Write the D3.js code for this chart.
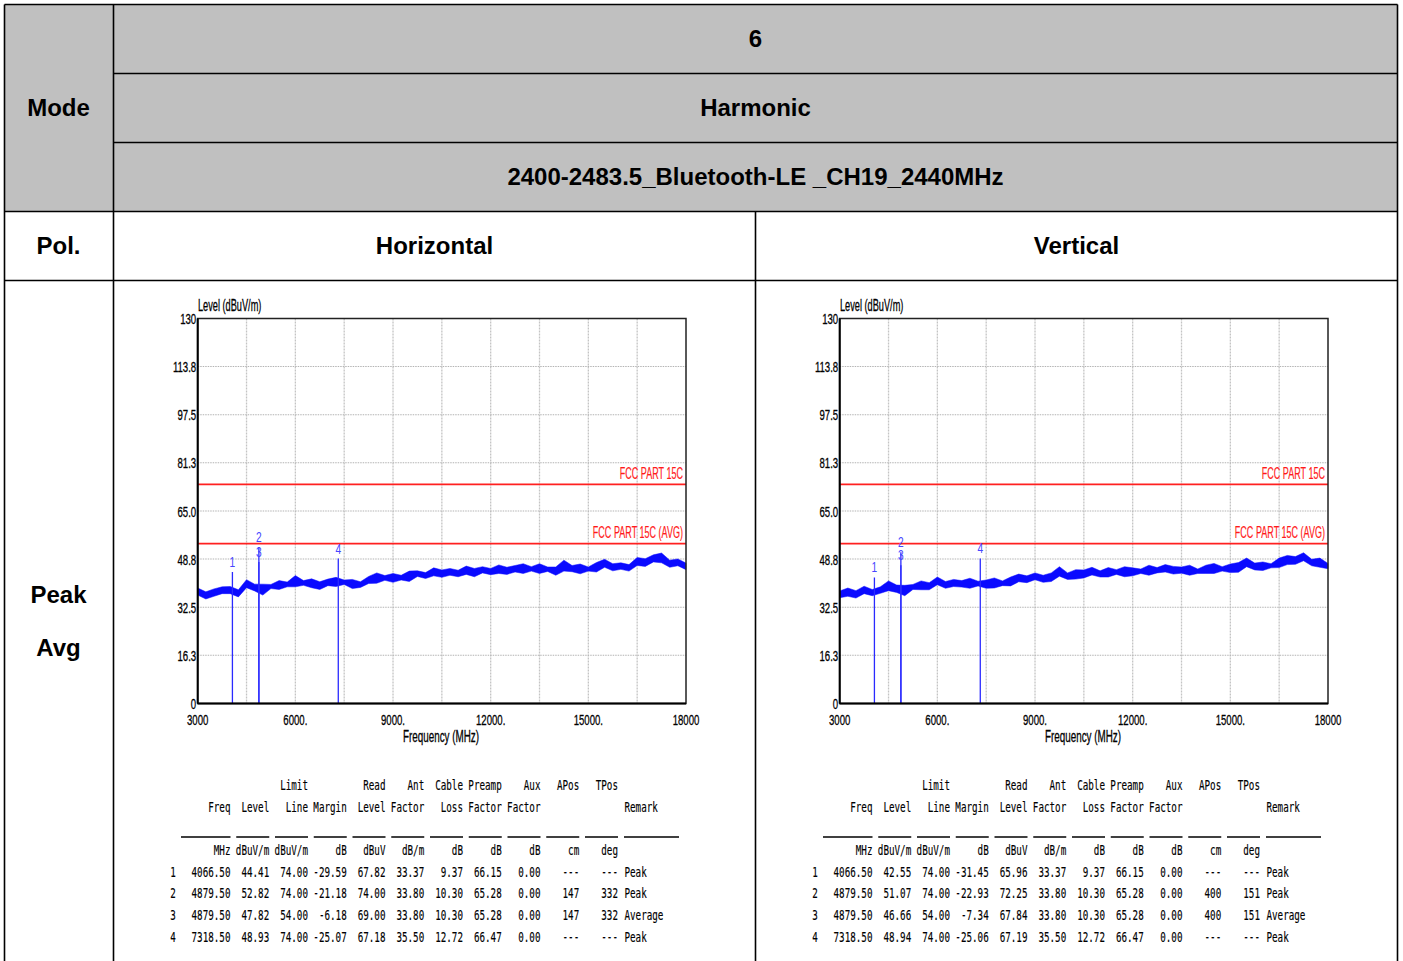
<!DOCTYPE html>
<html><head><meta charset="utf-8">
<script src="https://cdn.jsdelivr.net/npm/d3@7/dist/d3.min.js"></script>
<style>body{margin:0;background:#fff;} svg{display:block}</style>
</head><body><svg id="c" width="1403" height="961"></svg>
<script>
// ---------------- data ----------------
const headerTexts = ["6", "Harmonic", "2400-2483.5_Bluetooth-LE _CH19_2440MHz"];
const polNames = ["Horizontal", "Vertical"];
const yTicks = [0, 16.3, 32.5, 48.8, 65.0, 81.3, 97.5, 113.8, 130];
const yTickLabels = ["0", "16.3", "32.5", "48.8", "65.0", "81.3", "97.5", "113.8", "130"];
const xGrid = [3000, 4500, 6000, 7500, 9000, 10500, 12000, 13500, 15000, 16500, 18000];
const xTicks = [3000, 6000, 9000, 12000, 15000, 18000];
const xTickLabels = ["3000", "6000.", "9000.", "12000.", "15000.", "18000"];
const limitPeak = 74, limitAvg = 54;
const limitNames = ["FCC PART 15C", "FCC PART 15C (AVG)"];

const traceFreq = [3000,3250,3500,3750,4000,4250,4500,4750,5000,5250,5500,5750,6000,6250,6500,6750,7000,7250,7500,7750,8000,8250,8500,8750,9000,9250,9500,9750,10000,10250,10500,10750,11000,11250,11500,11750,12000,12250,12500,12750,13000,13250,13500,13750,14000,14250,14500,14750,15000,15250,15500,15750,16000,16250,16500,16750,17000,17250,17500,17750,18000];
// Horizontal trace: centre level and upper / lower extent of the noise band (dB)
const hTrace = [37.4,37.0,36.8,38.6,38.0,37.8,39.8,39.4,38.6,39.5,40.0,40.2,41.0,40.6,40.5,40.4,40.6,40.8,40.9,40.6,40.4,41.2,42.2,42.4,42.4,42.6,42.9,43.6,43.6,43.9,44.2,44.0,44.3,44.6,44.6,44.7,44.9,44.8,45.2,45.2,45.3,45.5,45.6,45.2,44.8,45.6,45.8,45.6,45.4,45.9,46.8,46.4,46.0,46.2,47.5,48.0,48.6,48.9,47.6,47.4,46.5];
const hUp = [1.6,0.7,1.9,0.8,1.5,0.6,2.0,0.9,1.7,0.7, 1.5,0.8,2.2,0.9,1.6,0.7,1.4,1.8,0.8,1.3, 0.7,1.7,1.9,0.8,1.5,0.7,1.8,1.2,0.6,1.9, 0.9,1.6,0.7,1.8,1.0,1.5,0.7,2.0,0.8,1.4, 1.9,0.7,1.6,0.9,1.3,2.8,0.8,1.5,0.7,1.7, 1.9,0.8,1.5,0.7,1.8,0.9,1.6,1.9,0.8,1.4, 0.9];
const hDn = [0.8,1.7,0.6,1.5,0.9,1.8,0.7,1.4,2.0,0.7, 1.5,0.8,1.6,0.7,1.4,1.9,0.8,1.3,0.7,1.8, 1.2,0.7,1.6,0.8,1.5,0.9,1.7,0.7,1.4,0.8, 1.6,0.7,1.5,1.0,1.8,0.6,1.4,0.9,1.6,0.8, 1.4,0.8,1.7,0.6,1.5,0.9,1.3,1.8,0.7,1.5, 0.8,1.6,0.7,1.5,0.9,1.7,0.8,1.4,1.6,0.9, 1.3];
// Vertical trace
const vTrace = [37.2,37.0,37.2,38.0,37.8,37.9,39.6,39.2,38.4,39.3,39.8,40.0,40.8,40.5,40.4,40.6,40.6,40.5,40.3,40.6,40.7,41.2,41.9,42.2,42.5,42.6,42.7,43.8,43.2,43.6,44.1,44.2,44.1,44.3,44.3,44.5,44.5,44.7,44.9,45.0,45.2,45.3,45.4,45.1,44.6,45.2,45.5,45.5,45.6,46.0,47.0,46.6,46.3,46.5,47.5,48.2,48.7,49.0,47.9,47.6,46.5];
const vUp = [0.8,2.0,0.9,1.6,0.7,1.5,1.8,0.8,1.5,0.9, 1.6,0.8,1.9,0.7,1.5,0.9,1.7,0.8,1.4,1.8, 0.7,1.5,1.8,0.9,1.6,0.7,1.4,2.4,0.9,1.6, 1.0,1.8,0.7,1.6,0.9,1.7,1.3,0.7,1.8,0.9, 1.7,1.0,0.7,1.6,0.8,1.5,1.8,0.7,1.5,1.6, 2.1,0.8,1.5,0.7,1.6,1.8,0.9,1.9,0.8,1.5, 0.8];
const vDn = [1.5,0.8,1.6,0.9,1.4,0.7,1.5,1.7,2.0,0.8, 1.4,1.6,0.7,1.6,0.9,1.3,1.7,0.8,1.4,1.6, 0.9,1.5,0.8,1.4,0.7,1.7,1.5,0.8,1.3,1.6, 1.7,0.8,1.4,1.6,0.7,1.7,1.4,0.8,1.6,0.9, 0.8,1.6,1.4,1.8,0.7,1.3,1.6,0.8,1.4,1.7, 0.8,1.5,1.4,0.7,1.6,1.3,1.7,0.8,1.4,1.6, 1.0];

// measurement table
const mFreq = ["4066.50", "4879.50", "4879.50", "7318.50"];
const mFreqVal = [4066.5, 4879.5, 4879.5, 7318.5];
const mLimit = ["74.00", "74.00", "54.00", "74.00"];
const mAnt = ["33.37", "33.80", "33.80", "35.50"];
const mCable = ["9.37", "10.30", "10.30", "12.72"];
const mPreamp = ["66.15", "65.28", "65.28", "66.47"];
const mAux = ["0.00", "0.00", "0.00", "0.00"];
const mRemark = ["Peak", "Peak", "Average", "Peak"];
const hLevel = [44.41, 52.82, 47.82, 48.93];
const hMargin = ["-29.59", "-21.18", "-6.18", "-25.07"];
const hRead = ["67.82", "74.00", "69.00", "67.18"];
const hAPos = ["---", "147", "147", "---"];
const hTPos = ["---", "332", "332", "---"];
const vLevel = [42.55, 51.07, 46.66, 48.94];
const vMargin = ["-31.45", "-22.93", "-7.34", "-25.06"];
const vRead = ["65.96", "72.25", "67.84", "67.19"];
const vAPos = ["---", "400", "400", "---"];
const vTPos = ["---", "151", "151", "---"];

const head1 = ["", "", "Limit", "", "Read", "Ant", "Cable", "Preamp", "Aux", "APos", "TPos"];
const head2 = ["Freq", "Level", "Line", "Margin", "Level", "Factor", "Loss", "Factor", "Factor", "", ""];
const units = ["MHz", "dBuV/m", "dBuV/m", "dB", "dBuV", "dB/m", "dB", "dB", "dB", "cm", "deg"];

// ---------------- drawing ----------------
const svg = d3.select("#c");
const SANS = "'Liberation Sans', Arial, sans-serif";
const MONO = "'DejaVu Sans Mono', 'Liberation Mono', monospace";

function ctext(g, x, y, str, o) {
  const t = g.append("text")
    .attr("transform", `translate(${x},${y}) scale(${o.sx || 1},1)`)
    .attr("dy", "0.36em")
    .attr("text-anchor", o.anchor || "start")
    .attr("font-family", o.family || SANS)
    .attr("font-size", o.size || 14)
    .attr("font-weight", o.weight || "normal")
    .attr("fill", o.fill || "#000")
    .text(str);
  if (o.heavy) t.attr("stroke", o.fill || "#000").attr("stroke-width", o.heavy);
  return t;
}

// outer table
const T = {l: 4.5, r: 1397.5, c1: 113.5, mid: 755.5, rows: [4.5, 73.5, 142.5, 211.5, 280.5], bottom: 962};
svg.append("rect").attr("x", T.l).attr("y", T.rows[0]).attr("width", T.r - T.l).attr("height", T.rows[3] - T.rows[0]).attr("fill", "#c0c0c0");
const lines = [
  [T.l, T.rows[0], T.r, T.rows[0]],
  [T.c1, T.rows[1], T.r, T.rows[1]],
  [T.c1, T.rows[2], T.r, T.rows[2]],
  [T.l, T.rows[3], T.r, T.rows[3]],
  [T.l, T.rows[4], T.r, T.rows[4]],
  [T.l, T.rows[0], T.l, T.bottom],
  [T.c1, T.rows[0], T.c1, T.bottom],
  [T.r, T.rows[0], T.r, T.bottom],
  [T.mid, T.rows[3], T.mid, T.bottom]
];
svg.append("g").selectAll("line").data(lines).join("line")
  .attr("x1", d => d[0]).attr("y1", d => d[1]).attr("x2", d => d[2]).attr("y2", d => d[3])
  .attr("stroke", "#000").attr("stroke-width", 1.6);

const cellFont = {size: 24, weight: "bold", anchor: "middle", family: SANS};
ctext(svg, 58.5, 107.5, "Mode", cellFont);
headerTexts.forEach((t, i) => ctext(svg, 755.5, (T.rows[i] + T.rows[i + 1]) / 2 - 0.5, t, cellFont));
ctext(svg, 58.5, 245.5, "Pol.", cellFont);
ctext(svg, 434.5, 245.5, polNames[0], cellFont);
ctext(svg, 1076.5, 245.5, polNames[1], cellFont);
ctext(svg, 58.5, 594.5, "Peak", cellFont);
ctext(svg, 58.5, 647.5, "Avg", cellFont);

// chart
function drawChart(ox, trace, up, dn, levels, margins, reads, apos, tpos) {
  const g = svg.append("g");
  const x = d3.scaleLinear().domain([3000, 18000]).range([ox + 197.7, ox + 686]);
  const y = d3.scaleLinear().domain([0, 130]).range([703.5, 318.5]);
  const [x0, x1] = x.range(), [y0, y1] = y.range();
  const cs = {size: 15.5, sx: 0.62, heavy: 0.3};

  // grid
  g.append("g").selectAll("line").data(xGrid.slice(1, -1)).join("line")
    .attr("x1", d => x(d)).attr("x2", d => x(d)).attr("y1", y1).attr("y2", y0)
    .attr("stroke", "#c4c4c4").attr("stroke-width", 1.3).attr("stroke-dasharray", "2,1");
  g.append("g").selectAll("line").data(yTicks.slice(1, -1)).join("line")
    .attr("x1", x0).attr("x2", x1).attr("y1", d => y(d)).attr("y2", d => y(d))
    .attr("stroke", "#b4b4b4").attr("stroke-width", 1.2).attr("stroke-dasharray", "1.5,1");

  // limit lines
  [limitPeak, limitAvg].forEach((lv, i) => {
    g.append("line").attr("x1", x0).attr("x2", x1).attr("y1", y(lv)).attr("y2", y(lv))
      .attr("stroke", "#ff2020").attr("stroke-width", 1.8);
    ctext(g, x1 - 3, y(lv) - 11, limitNames[i], {size: 16, sx: 0.565, anchor: "end", fill: "#ff1a1a", heavy: 0.2});
  });

  // trace band
  const idx = d3.range(traceFreq.length);
  const area = d3.area().x(i => x(traceFreq[i])).y0(i => y(trace[i] - dn[i])).y1(i => y(trace[i] + up[i]));
  g.append("path").datum(idx).attr("d", area).attr("fill", "#0a0aff").attr("stroke", "#0a0aff").attr("stroke-width", 0.5);

  // markers
  mFreqVal.forEach((f, i) => {
    g.append("line").attr("x1", x(f)).attr("x2", x(f)).attr("y1", y0).attr("y2", y(levels[i]))
      .attr("stroke", "#2a2aff").attr("stroke-width", 1.3);
    ctext(g, x(f), y(levels[i]) - 10.5, String(i + 1), {size: 15, sx: 0.68, anchor: "middle", fill: "#4646ff"});
  });

  // frame
  g.append("rect").attr("x", x0).attr("y", y1).attr("width", x1 - x0).attr("height", y0 - y1)
    .attr("fill", "none").attr("stroke", "#222").attr("stroke-width", 1.5);
  g.append("line").attr("x1", x0).attr("x2", x0).attr("y1", y1).attr("y2", y0).attr("stroke", "#000").attr("stroke-width", 2);
  g.append("line").attr("x1", x0).attr("x2", x1).attr("y1", y0).attr("y2", y0).attr("stroke", "#000").attr("stroke-width", 2);

  // tick labels
  yTicks.forEach((v, i) => ctext(g, x0 - 1.5, y(v), yTickLabels[i], {...cs, anchor: "end"}));
  xTicks.forEach((v, i) => ctext(g, x(v), 719.5, xTickLabels[i], {...cs, anchor: "middle"}));
  ctext(g, x0 + 0.3, 305, "Level (dBuV/m)", {size: 16, sx: 0.575, heavy: 0.3});
  ctext(g, ox + 441, 736.5, "Frequency (MHz)", {size: 16, sx: 0.615, heavy: 0.3, anchor: "middle"});

  // measurement table
  const ms = {size: 14, sx: 0.66, family: MONO, anchor: "end", fill: "#000", heavy: 0.15};
  const colR = d3.range(11).map(i => ox + 230.5 + 38.75 * i);
  const remX = ox + 624.5;
  head1.forEach((t, i) => t && ctext(g, colR[i], 785, t, ms));
  head2.forEach((t, i) => t && ctext(g, colR[i], 806.5, t, ms));
  ctext(g, remX, 806.5, "Remark", {...ms, anchor: "start"});
  const segs = colR.map((r, i) => [i === 0 ? ox + 181 : r - 33, r]).concat([[remX - 0.5, ox + 679]]);
  g.append("g").selectAll("line").data(segs).join("line")
    .attr("x1", d => d[0]).attr("x2", d => d[1]).attr("y1", 837).attr("y2", 837)
    .attr("stroke", "#000").attr("stroke-width", 1.6);
  units.forEach((t, i) => ctext(g, colR[i], 850, t, ms));
  const rowsY = [871.5, 893.3, 915.3, 937];
  mFreq.forEach((f, r) => {
    const cells = [f, levels[r].toFixed(2), mLimit[r], margins[r], reads[r], mAnt[r], mCable[r], mPreamp[r], mAux[r], apos[r], tpos[r]];
    ctext(g, ox + 173, rowsY[r], String(r + 1), {...ms, anchor: "middle"});
    cells.forEach((c, i) => ctext(g, colR[i], rowsY[r], c, ms));
    ctext(g, remX, rowsY[r], mRemark[r], {...ms, anchor: "start"});
  });
}

drawChart(0, hTrace, hUp, hDn, hLevel, hMargin, hRead, hAPos, hTPos);
drawChart(642, vTrace, vUp, vDn, vLevel, vMargin, vRead, vAPos, vTPos);
</script>
</body></html>
